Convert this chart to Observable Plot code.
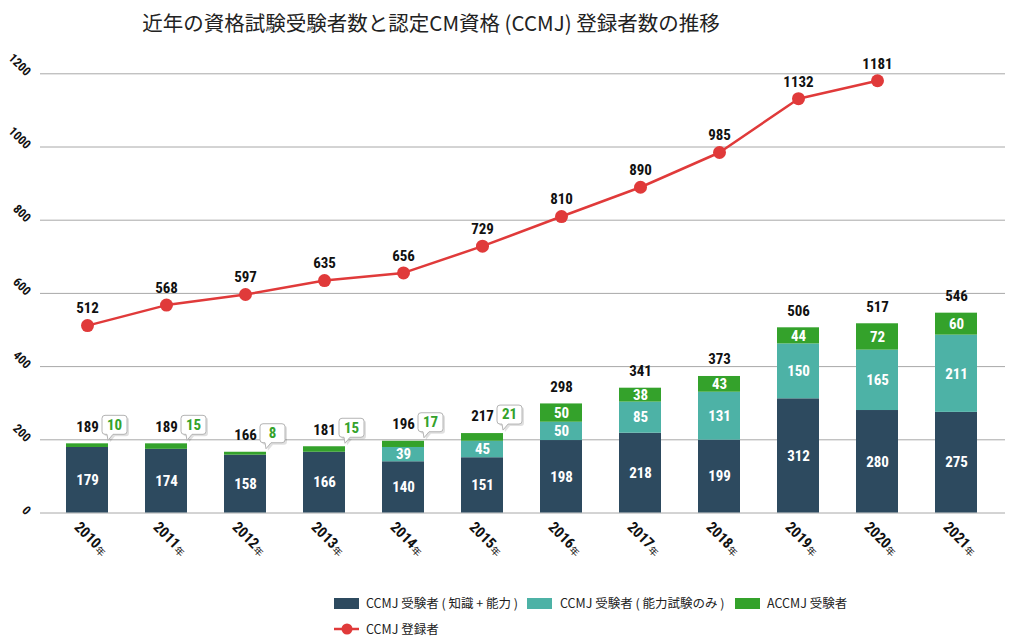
<!DOCTYPE html>
<html><head><meta charset="utf-8">
<script src="https://cdn.jsdelivr.net/npm/d3@7"></script>
<script src="https://cdn.jsdelivr.net/npm/@observablehq/plot@0.6"></script>
<style>
body{margin:0;background:#fff;}
#wrap{position:relative;width:1020px;height:643px;overflow:hidden;background:#fff;}
#title{position:absolute;left:0;top:0;width:862px;height:46px;line-height:44px;text-align:center;font-family:"Noto Sans CJK JP";font-size:20.5px;font-weight:400;color:#222;white-space:nowrap;}
#chart{position:absolute;left:0;top:48px;}
.lg{position:absolute;font-family:"Noto Sans CJK JP";font-size:12.5px;color:#222;line-height:16px;white-space:nowrap;}
.sw{position:absolute;width:25px;height:11px;}
</style></head>
<body>
<div id="wrap">
  <div id="title">近年の資格試験受験者数と認定CM資格 (CCMJ) 登録者数の推移</div>
  <div id="chart"></div>
  <div id="legend"></div>
</div>
<script>
// ---- data ----
const years = ["2010","2011","2012","2013","2014","2015","2016","2017","2018","2019","2020","2021"];
const knowledgeAbility = [179,174,158,166,140,151,198,218,199,312,280,275]; // CCMJ 受験者 (知識+能力)
const abilityOnly      = [0,0,0,0,39,45,50,85,131,150,165,211];             // CCMJ 受験者 (能力試験のみ)
const accmj            = [10,15,8,15,17,21,50,38,43,44,72,60];               // ACCMJ 受験者
const totals           = [189,189,166,181,196,217,298,341,373,506,517,546];
const registered       = [512,568,597,635,656,729,810,890,985,1132,1181,null]; // CCMJ 登録者
const yTicks = [0,200,400,600,800,1000,1200];
const seriesNames = ["CCMJ 受験者 ( 知識 + 能力 )","CCMJ 受験者 ( 能力試験のみ )","ACCMJ 受験者"];
const seriesColors = ["#2d4a5f","#4db2a6","#34a22b"];
const lineName = "CCMJ 登録者";
const lineColor = "#e03a3a";

// ---- derived tables ----
const seriesValues = [knowledgeAbility, abilityOnly, accmj];
const stacked = [];
years.forEach((y,i)=>seriesNames.forEach((s,k)=>stacked.push({year:y, series:s, value:seriesValues[k][i]})));
const totalData = years.map((y,i)=>({year:y, total:totals[i]}));
const lineData = years.map((y,i)=>({year:y, value:registered[i]})).filter(d=>d.value!=null);
const calloutData = years.map((y,i)=>({year:y, value:accmj[i], total:totals[i]})).filter(d=>d.value<30);

const NUM = '"Roboto Condensed","Liberation Sans Narrow",Roboto,sans-serif';

const callout = {
  draw(ctx){
    const w=25,h=19,r=3,x0=-w/2,y0=-h/2;
    ctx.moveTo(x0+r,y0);
    ctx.lineTo(x0+w-r,y0);
    ctx.arcTo(x0+w,y0,x0+w,y0+r,r);
    ctx.lineTo(x0+w,y0+h-r);
    ctx.arcTo(x0+w,y0+h,x0+w-r,y0+h,r);
    ctx.lineTo(x0+11,y0+h);
    ctx.lineTo(x0+6,y0+h+6);
    ctx.lineTo(x0+5,y0+h);
    ctx.lineTo(x0+r,y0+h);
    ctx.arcTo(x0,y0+h,x0,y0+h-r,r);
    ctx.lineTo(x0,y0+r);
    ctx.arcTo(x0,y0,x0+r,y0,r);
    ctx.closePath();
  }
};

const chart = Plot.plot({
  width:1020, height:540,
  marginTop:25.3, marginBottom:75.5, marginLeft:40, marginRight:15,
  style:{fontFamily:NUM, background:"#fff", overflow:"visible"},
  x:{type:"band", domain:years, range:[23.2,1020.3], paddingInner:0.472, paddingOuter:0.5, axis:null},
  y:{domain:[0,1200], axis:null},
  color:{domain:seriesNames, range:seriesColors},
  marks:[
    Plot.ruleY(yTicks,{stroke:"#a8a8a8", strokeWidth:1}),
    Plot.barY(stacked, Plot.stackY({x:"year", y:"value", z:"series", fill:"series", order:seriesNames})),
    Plot.text(stacked, Plot.stackY({x:"year", y:"value", z:"series", order:seriesNames,
      text:d=> (d.value>0 && !(d.series===seriesNames[2] && d.value<30)) ? String(d.value) : null,
      fill:"#fff", fontSize:15, fontWeight:"bold"})),
    Plot.text(totalData,{x:"year", y:"total", text:d=>String(d.total), dy:-17, fill:"#111", fontSize:15, fontWeight:"bold"}),
    Plot.dot(calloutData,{x:"year", y:"total", symbol:callout, dx:29, dy:-17, fill:"#000", fillOpacity:0.12, stroke:"none"}),
    Plot.dot(calloutData,{x:"year", y:"total", symbol:callout, dx:27, dy:-19, fill:"#fff", stroke:"#b4b4b4", strokeWidth:1}),
    Plot.text(calloutData,{x:"year", y:"total", text:d=>String(d.value), dx:27, dy:-19, fill:"#34a22b", fontSize:15, fontWeight:"bold"}),
    Plot.line(lineData,{x:"year", y:"value", stroke:lineColor, strokeWidth:2.5}),
    Plot.dot(lineData,{x:"year", y:"value", r:6.5, fill:lineColor, stroke:"none"}),
    Plot.text(lineData,{x:"year", y:"value", text:d=>String(d.value), dy:-17, fill:"#111", fontSize:15, fontWeight:"bold"}),
    Plot.text(yTicks,{y:d=>d, text:d=>String(d), frameAnchor:"left", dx:-12, dy:0, rotate:45, textAnchor:"end", fill:"#111", fontSize:12.5, fontWeight:"bold"}),
    Plot.text(years,{x:d=>d, text:d=>d, frameAnchor:"bottom", dx:-14, dy:15, rotate:45, textAnchor:"start", fill:"#111", fontSize:15, fontWeight:"bold"}),
    Plot.text(years,{x:d=>d, text:()=>"年", frameAnchor:"bottom", dx:7, dy:37.5, rotate:45, textAnchor:"start", fill:"#111", fontSize:9.5, fontFamily:"Noto Sans CJK JP"})
  ]
});
document.getElementById("chart").appendChild(chart);

// ---- legend ----
const lg = document.getElementById("legend");
const legendPos = [[334,366],[527,560],[735,767]];
seriesNames.forEach((s,k)=>{
  const sw=document.createElement("div"); sw.className="sw";
  sw.style.left=legendPos[k][0]+"px"; sw.style.top="598px"; sw.style.background=seriesColors[k];
  lg.appendChild(sw);
  const t=document.createElement("div"); t.className="lg";
  t.style.left=legendPos[k][1]+"px"; t.style.top="595px"; t.textContent=s;
  lg.appendChild(t);
});
const ls=document.createElementNS("http://www.w3.org/2000/svg","svg");
ls.setAttribute("width","30"); ls.setAttribute("height","16");
ls.style.position="absolute"; ls.style.left="332px"; ls.style.top="621px";
ls.innerHTML=`<line x1="2" x2="27" y1="8" y2="8" stroke="${lineColor}" stroke-width="2.5"/><circle cx="15" cy="8" r="5.5" fill="${lineColor}"/>`;
lg.appendChild(ls);
const lt=document.createElement("div"); lt.className="lg";
lt.style.left="366px"; lt.style.top="621px"; lt.textContent=lineName;
lg.appendChild(lt);
</script>
</body></html>
